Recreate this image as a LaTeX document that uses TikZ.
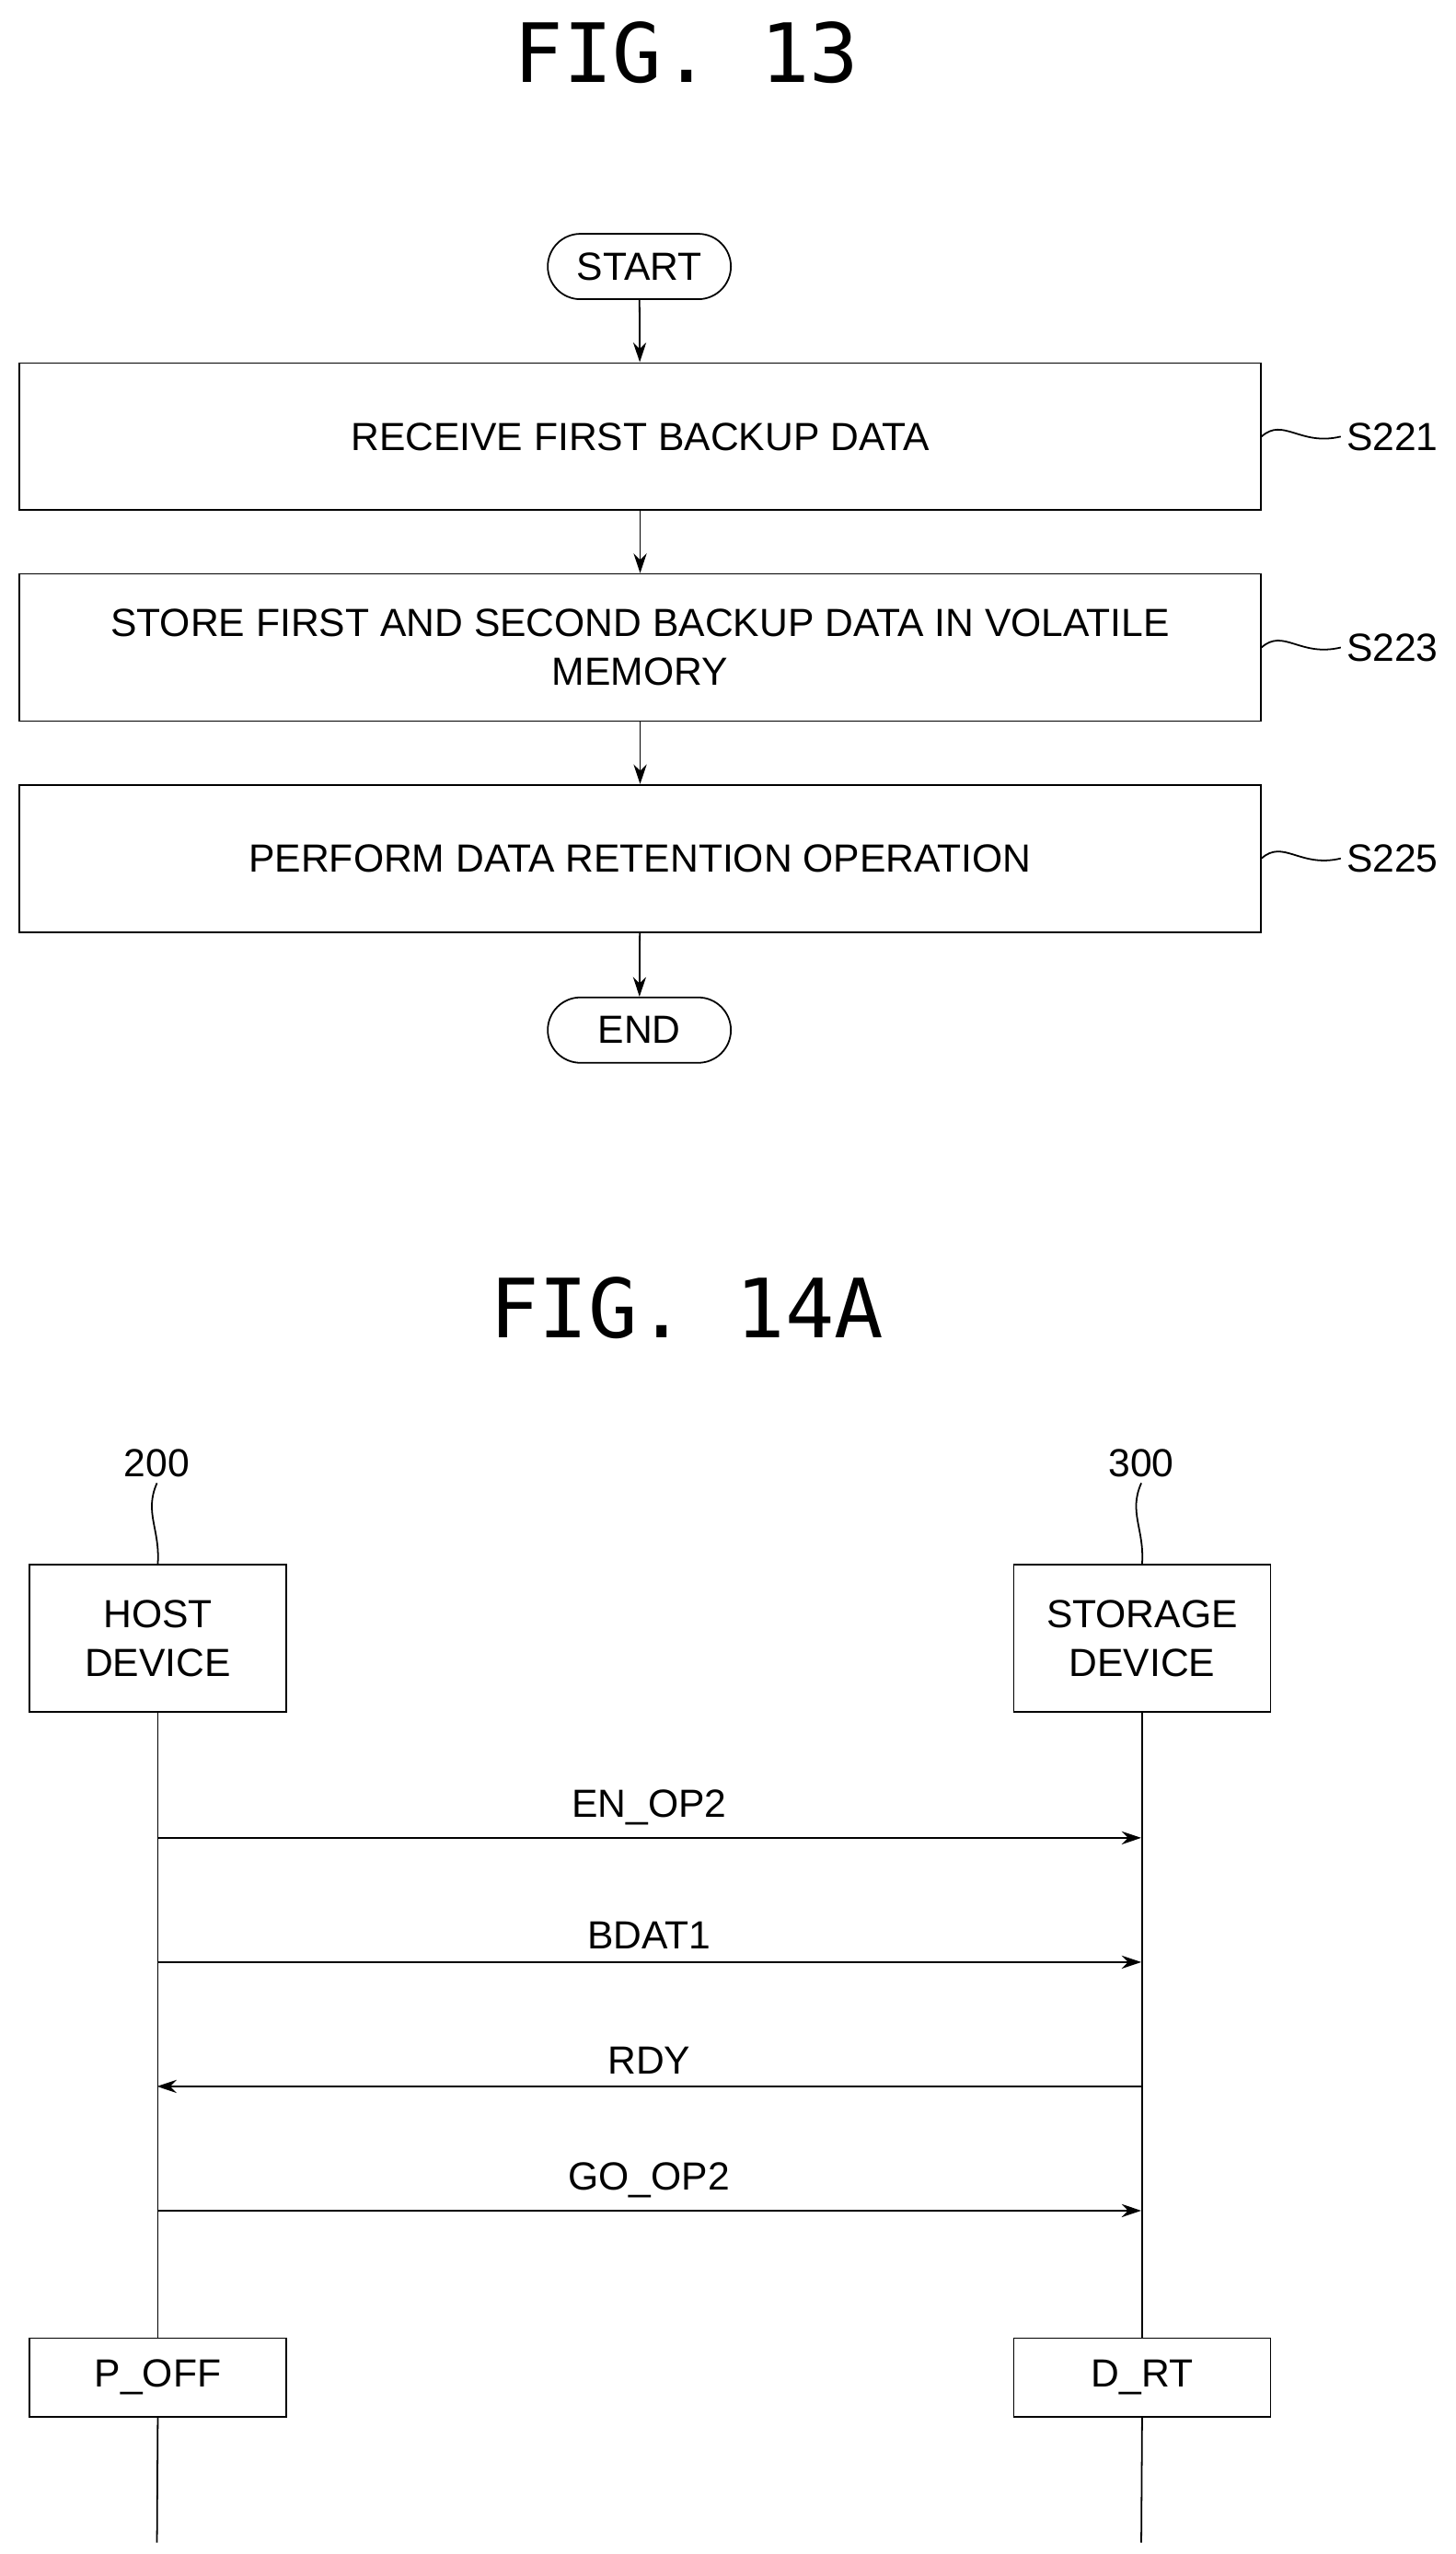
\documentclass[tikz,border=0pt]{standalone}
\usepackage{fontspec}
\setmainfont{Liberation Sans}
\newfontfamily\titlefont{DejaVu Sans Mono}
\usetikzlibrary{arrows.meta}
\begin{document}
\begin{tikzpicture}[x=1pt,y=-1pt,
  every node/.style={font=\fontsize{24}{30}\selectfont},
  box/.style={draw,line width=1pt,inner sep=0pt},
  term/.style={draw,line width=1pt,rounded corners=20pt,minimum width=112pt,minimum height=40pt,inner sep=0pt},
  arr/.style={line width=1pt,-{Stealth[length=12pt,width=8pt]}},
  ln/.style={line width=1pt}]
\useasboundingbox (0,0) rectangle (890,1562);
\node[font=\titlefont\fontsize{50}{55}\selectfont] (t1) at (420,32) {FIG. 13};
\node[term] (start) at (391,163) {START};
\node[box,minimum width=759pt,minimum height=90pt] (s221) at (391.5,267) {RECEIVE FIRST BACKUP DATA};
\node[box,minimum width=759pt,minimum height=90pt,align=center] (s223) at (391.5,396) {STORE FIRST AND SECOND BACKUP DATA IN VOLATILE\\MEMORY};
\node[box,minimum width=759pt,minimum height=90pt] (s225) at (391.5,525) {PERFORM DATA RETENTION OPERATION};
\node[term] (end) at (391,630) {END};
\draw[arr] (start) -- (s221);
\draw[arr] (s221) -- (s223);
\draw[arr] (s223) -- (s225);
\draw[arr] (s225) -- (end);
\foreach \n/\l/\y in {s221/S221/267,s223/S223/396,s225/S225/525}{
  \node[anchor=west] (l\n) at (820,\y) {\l};
  \draw[ln] (s221.east|-0,\y) .. controls (785,\y-12) and (795,\y+6) .. (l\n.west);
}
\node[font=\titlefont\fontsize{50}{55}\selectfont] (t2) at (420,800) {FIG. 14A};
\node[box,minimum width=157pt,minimum height=90pt,align=center] (host) at (96.5,1002) {HOST\\DEVICE};
\node[box,minimum width=157pt,minimum height=90pt,align=center] (stor) at (698.5,1002) {STORAGE\\DEVICE};
\node (n200) at (96,895) {200};
\node (n300) at (698,895) {300};
\draw[ln] (n200.south) .. controls (88,925) and (98,935) .. (host.north);
\draw[ln] (n300.south) .. controls (690,925) and (700,935) .. (stor.north);
\node[box,minimum width=157pt,minimum height=48pt] (poff) at (96.5,1454) {P\_OFF};
\node[box,minimum width=157pt,minimum height=48pt] (drt) at (698.5,1454) {D\_RT};
\coordinate (he) at (96,1555);
\coordinate (se) at (698,1555);
\draw[ln] (host.south) -- (poff.north);
\draw[ln] (poff.south) -- (he);
\draw[ln] (stor.south) -- (drt.north);
\draw[ln] (drt.south) -- (se);
\foreach \lab/\y/\d in {EN\_OP2/1124/1,BDAT1/1200/1,RDY/1276/0,GO\_OP2/1352/1}{
  \coordinate (a\y) at (96,\y); \coordinate (b\y) at (698,\y);
  \ifnum\d=1 \draw[arr] (a\y) -- node[above=4pt] {\lab} (b\y);
  \else \draw[arr] (b\y) -- node[above=4pt] {\lab} (a\y); \fi
}
\end{tikzpicture}
\end{document}
